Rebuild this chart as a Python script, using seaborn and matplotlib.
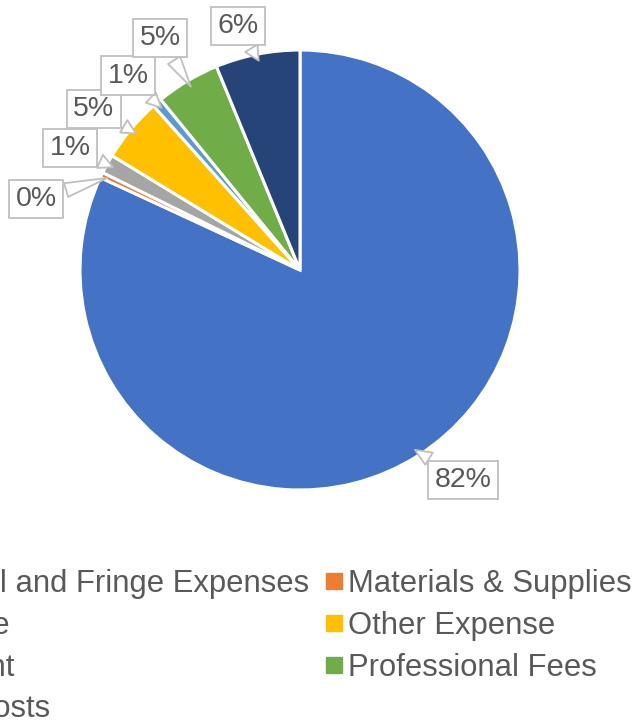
import matplotlib
matplotlib.use("Agg")
import matplotlib.pyplot as plt
from matplotlib.lines import Line2D
import numpy as np
import seaborn as sns

# Budget categories in slice order (clockwise from 12 o'clock)
categories = [
    "Personnel and Fringe Expenses",
    "Materials & Supplies",
    "Telephone",
    "Other Expense",
    "Equipment",
    "Professional Fees",
    "Indirect costs",
]
shares = [81.9, 0.4, 1.4, 4.7, 0.7, 4.7, 6.2]
colors = ["#4472C4", "#ED7D31", "#A5A5A5", "#FFC000", "#5B9BD5", "#70AD47", "#264478"]

# Callout label placement (data coords, pie radius = 1)
label_xy = [(0.741, -0.955), (-1.200, 0.323), (-1.045, 0.555), (-0.937, 0.732),
            (-0.782, 0.883), (-0.636, 1.055), (-0.282, 1.109)]

sns.set_theme(style="white")
plt.rcParams["font.family"] = ["Liberation Sans", "DejaVu Sans"]

W, H = 635, 724
fig = plt.figure(figsize=(W / 100, H / 100), dpi=100)
cx, cy, r = 300, 270, 220
ax = fig.add_axes([(cx - r) / W, (H - cy - r) / H, 2 * r / W, 2 * r / H])

wedges, _ = ax.pie(shares, colors=colors, startangle=90, counterclock=False,
                   radius=1, wedgeprops=dict(edgecolor="white", linewidth=2.2))
ax.set_xlim(-1, 1)
ax.set_ylim(-1, 1)
ax.set_aspect("equal")
ax.axis("off")

total = sum(shares)
text_color = "#595959"
for w, v, (lx, ly) in zip(wedges, shares, label_xy):
    mid = np.deg2rad((w.theta1 + w.theta2) / 2)
    tip = (0.97 * np.cos(mid), 0.97 * np.sin(mid))
    pct = f"{round(v / total * 100):.0f}%"
    ax.annotate(pct, xy=tip, xytext=(lx, ly), ha="center", va="center",
                fontsize=20.5, color=text_color, annotation_clip=False,
                bbox=dict(boxstyle="square,pad=0.22", fc="white", ec="#BFBFBF", lw=1.3),
                arrowprops=dict(arrowstyle="wedge,tail_width=0.5,shrink_factor=0.5",
                                fc="white", ec="#BFBFBF", lw=1.3, shrinkB=0))

# Legend laid out row by row in two columns
order = [0, 2, 4, 6, 1, 3, 5]
handles = [Line2D([], [], marker="s", linestyle="none", markersize=11,
                  markerfacecolor=colors[i], markeredgecolor=colors[i]) for i in order]
labels = [categories[i] for i in order]
fig.legend(handles, labels, ncol=2, loc="upper left",
           bbox_to_anchor=(-155 / W, (H - 569) / H), frameon=False,
           fontsize=22.3, labelcolor=text_color, handlelength=0.5,
           handletextpad=0.2, columnspacing=0.55, labelspacing=0.38,
           borderpad=0, borderaxespad=0)

fig.savefig("out.png", dpi=100, facecolor="white")
